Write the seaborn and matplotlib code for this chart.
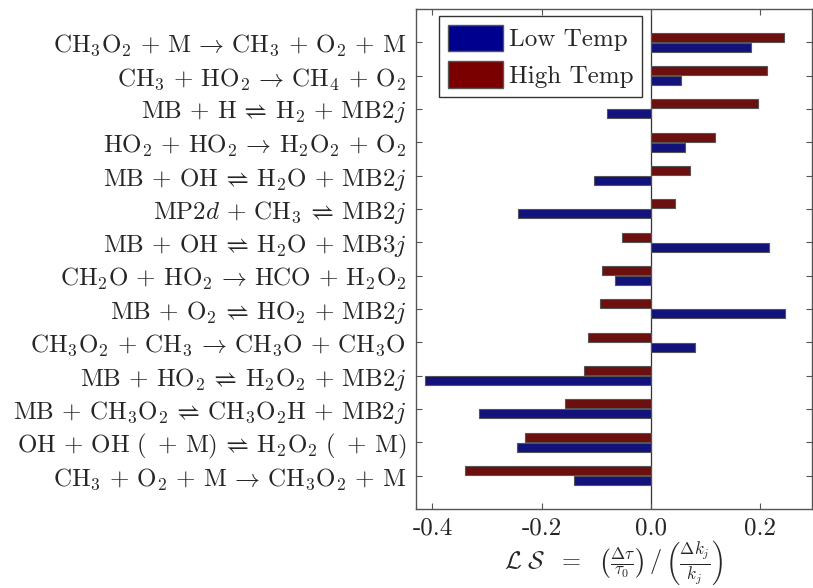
import pandas as pd
import numpy as np

import seaborn as sns
import matplotlib.pyplot as plt
from matplotlib.patches import Patch

sns.set_style("ticks")
plt.rcParams["font.family"] = ["cmr10", "DejaVu Sans"]
plt.rcParams["mathtext.fontset"] = "cm"
plt.rcParams["mathtext.default"] = "rm"
plt.rcParams["axes.unicode_minus"] = False
plt.rcParams["axes.formatter.use_mathtext"] = True

DPI = 100
FIGSIZE = (8.13, 5.88)
FS = 18

# reactions, top to bottom
reactions = [
    r"$CH_3O_2\,+\,M\,\rightarrow\,CH_3\,+\,O_2\,+\,M$",
    r"$CH_3\,+\,HO_2\,\rightarrow\,CH_4\,+\,O_2$",
    r"$MB\,+\,H\,\rightleftharpoons\,H_2\,+\,MB\mathit{2j}$",
    r"$HO_2\,+\,HO_2\,\rightarrow\,H_2O_2\,+\,O_2$",
    r"$MB\,+\,OH\,\rightleftharpoons\,H_2O\,+\,MB\mathit{2j}$",
    r"$MP\mathit{2d}\,+\,CH_3\,\rightleftharpoons\,MB\mathit{2j}$",
    r"$MB\,+\,OH\,\rightleftharpoons\,H_2O\,+\,MB\mathit{3j}$",
    r"$CH_2O\,+\,HO_2\,\rightarrow\,HCO\,+\,H_2O_2$",
    r"$MB\,+\,O_2\,\rightleftharpoons\,HO_2\,+\,MB\mathit{2j}$",
    r"$CH_3O_2\,+\,CH_3\,\rightarrow\,CH_3O\,+\,CH_3O$",
    r"$MB\,+\,HO_2\,\rightleftharpoons\,H_2O_2\,+\,MB\mathit{2j}$",
    r"$MB\,+\,CH_3O_2\,\rightleftharpoons\,CH_3O_2H\,+\,MB\mathit{2j}$",
    r"$OH\,+\,OH\ (\ +\,M)\,\rightleftharpoons\,H_2O_2\ (\ +\,M)$",
    r"$CH_3\,+\,O_2\,+\,M\,\rightarrow\,CH_3O_2\,+\,M$",
]
low_temp = [0.183, 0.056, -0.081, 0.062, -0.105, -0.244, 0.217,
            -0.065, 0.246, 0.081, -0.413, -0.314, -0.246, -0.140]
high_temp = [0.244, 0.212, 0.196, 0.118, 0.071, 0.045, -0.053,
             -0.090, -0.093, -0.115, -0.123, -0.157, -0.231, -0.340]

df = pd.concat([
    pd.DataFrame({"reaction": reactions, "value": low_temp, "cond": "Low Temp"}),
    pd.DataFrame({"reaction": reactions, "value": high_temp, "cond": "High Temp"}),
])
colors = {"Low Temp": "#00008e", "High Temp": "#7a0000"}

fig = plt.figure(figsize=FIGSIZE, dpi=DPI)
ax = fig.add_axes([0.5117, 0.1344, 0.4871, 0.8503])
sns.barplot(data=df, y="reaction", x="value", hue="cond", order=reactions,
            hue_order=["High Temp", "Low Temp"], palette=colors, orient="h",
            width=0.6, gap=0.1, edgecolor="#555555", linewidth=0.8,
            legend=False, ax=ax)
ax.axvline(0, color="#333333", lw=0.9, zorder=0)
ax.set_xlim(-0.43, 0.295)
ax.set_ylim(14, -1)
ax.set_xticks([-0.4, -0.2, 0.0, 0.2])
ax.set_xticklabels(["-0.4", "-0.2", "0.0", "0.2"])
ax.tick_params(direction="in", top=True, right=True, length=4, width=0.8,
               color="#555555", labelsize=FS, pad=7)
ax.tick_params(axis="x", pad=6)
ax.set_ylabel("")
ax.set_xlabel(r"$\mathcal{L}\ \mathcal{S}\ \ =\ \ \left(\frac{\Delta\tau}{\tau_0}\right)\,/\,\left(\frac{\Delta \mathit{k_j}}{\mathit{k_j}}\right)$",
              fontsize=17.5, labelpad=-1)
for s in ax.spines.values():
    s.set_color("#555555")
    s.set_linewidth(1.0)

handles = [Patch(facecolor=colors[k], edgecolor="#555555", label=k)
           for k in ["Low Temp", "High Temp"]]
ax.legend(handles=handles, loc="upper left", bbox_to_anchor=(0.058, 0.986),
          borderaxespad=0, fontsize=FS, fancybox=False, framealpha=1,
          edgecolor="#333333", handlelength=2.2, handleheight=1.25,
          handletextpad=0.25, labelspacing=0.4, borderpad=0.35)

fig.savefig("out.png", dpi=DPI)
